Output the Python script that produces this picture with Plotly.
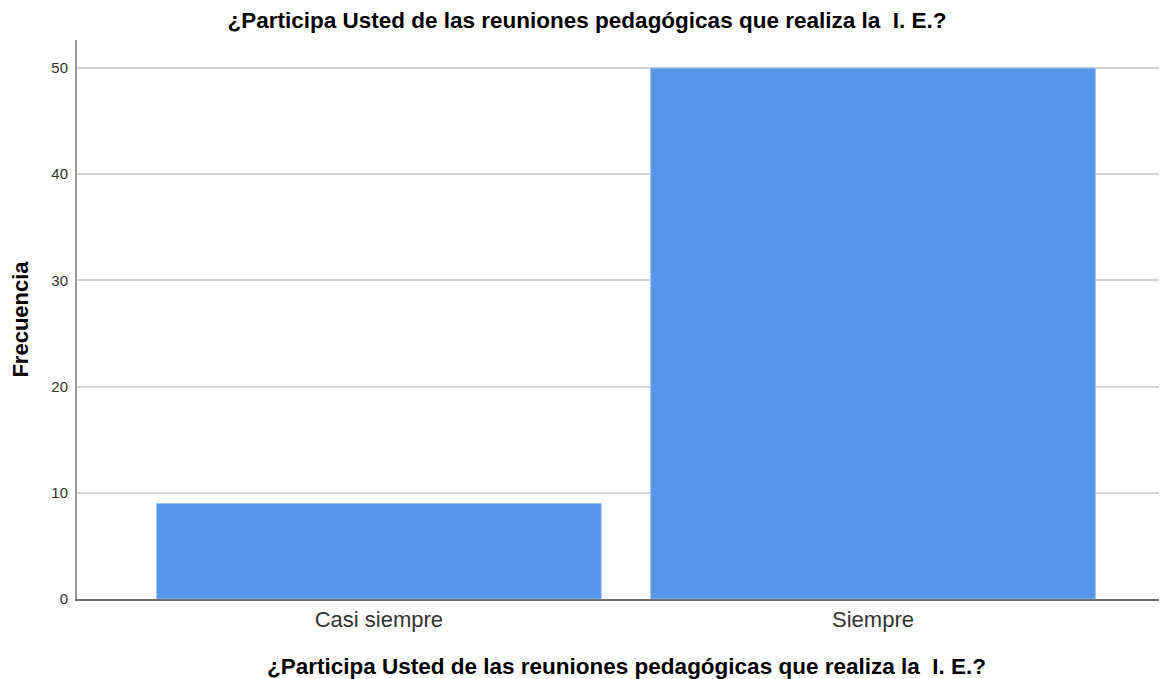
import plotly.graph_objects as go

categories = ["Casi siempre", "Siempre"]
values = [9, 50]
y_ticks = [0, 10, 20, 30, 40, 50]

title_text = "¿Participa Usted de las reuniones pedagógicas que realiza la  I. E.?"
font_family = "Arial, Liberation Sans, sans-serif"

W, H = 1159, 671  # page body has an 8px margin
T, B = 32, 80
plot_h = H - T - B

fig = go.Figure()
fig.add_trace(go.Bar(
    x=[0, 1], y=values, width=0.9,
    marker=dict(color="#5596E6", line=dict(color="#9cc2f0", width=1)),
    hoverinfo="y",
))

fig.update_layout(
    width=W, height=H,
    margin=dict(l=69, r=0, t=T, b=B),
    paper_bgcolor="white", plot_bgcolor="white",
    showlegend=False,
    font=dict(family=font_family, color="#000"),
    title=dict(text="<b>" + title_text + "</b>", x=(587 - 8) / W, xanchor="center",
               y=1 - 12.5 / H, yanchor="middle", font=dict(size=22.5, color="#000")),
    xaxis=dict(
        range=[-0.611, 1.595],
        automargin=False,
        tickmode="array", tickvals=[0, 1], ticktext=categories,
        tickfont=dict(size=22, color="#333"),
        showgrid=False, zeroline=False,
        showline=True, linecolor="#6e6e6e", linewidth=2,
        ticks="", ticklen=0,
    ),
    yaxis=dict(
        range=[0, 52.64],
        automargin=False,
        tickmode="array", tickvals=y_ticks,
        tickfont=dict(size=15, color="#333"),
        ticklabelstandoff=4,
        showgrid=True, gridcolor="#d4d4d4", gridwidth=2,
        zeroline=False,
        showline=True, linecolor="#999", linewidth=2,
        ticks="", ticklen=0,
        title=dict(text="<b>Frecuencia</b>", font=dict(size=22, color="#000"), standoff=20),
    ),
    annotations=[dict(
        text="<b>" + title_text + "</b>",
        xref="paper", yref="paper", x=0.504, y=-(666 - 8 - (H - B)) / plot_h,
        xanchor="center", yanchor="middle", showarrow=False,
        font=dict(size=22.5, color="#000"),
    )],
)

fig.write_html("out.html")
